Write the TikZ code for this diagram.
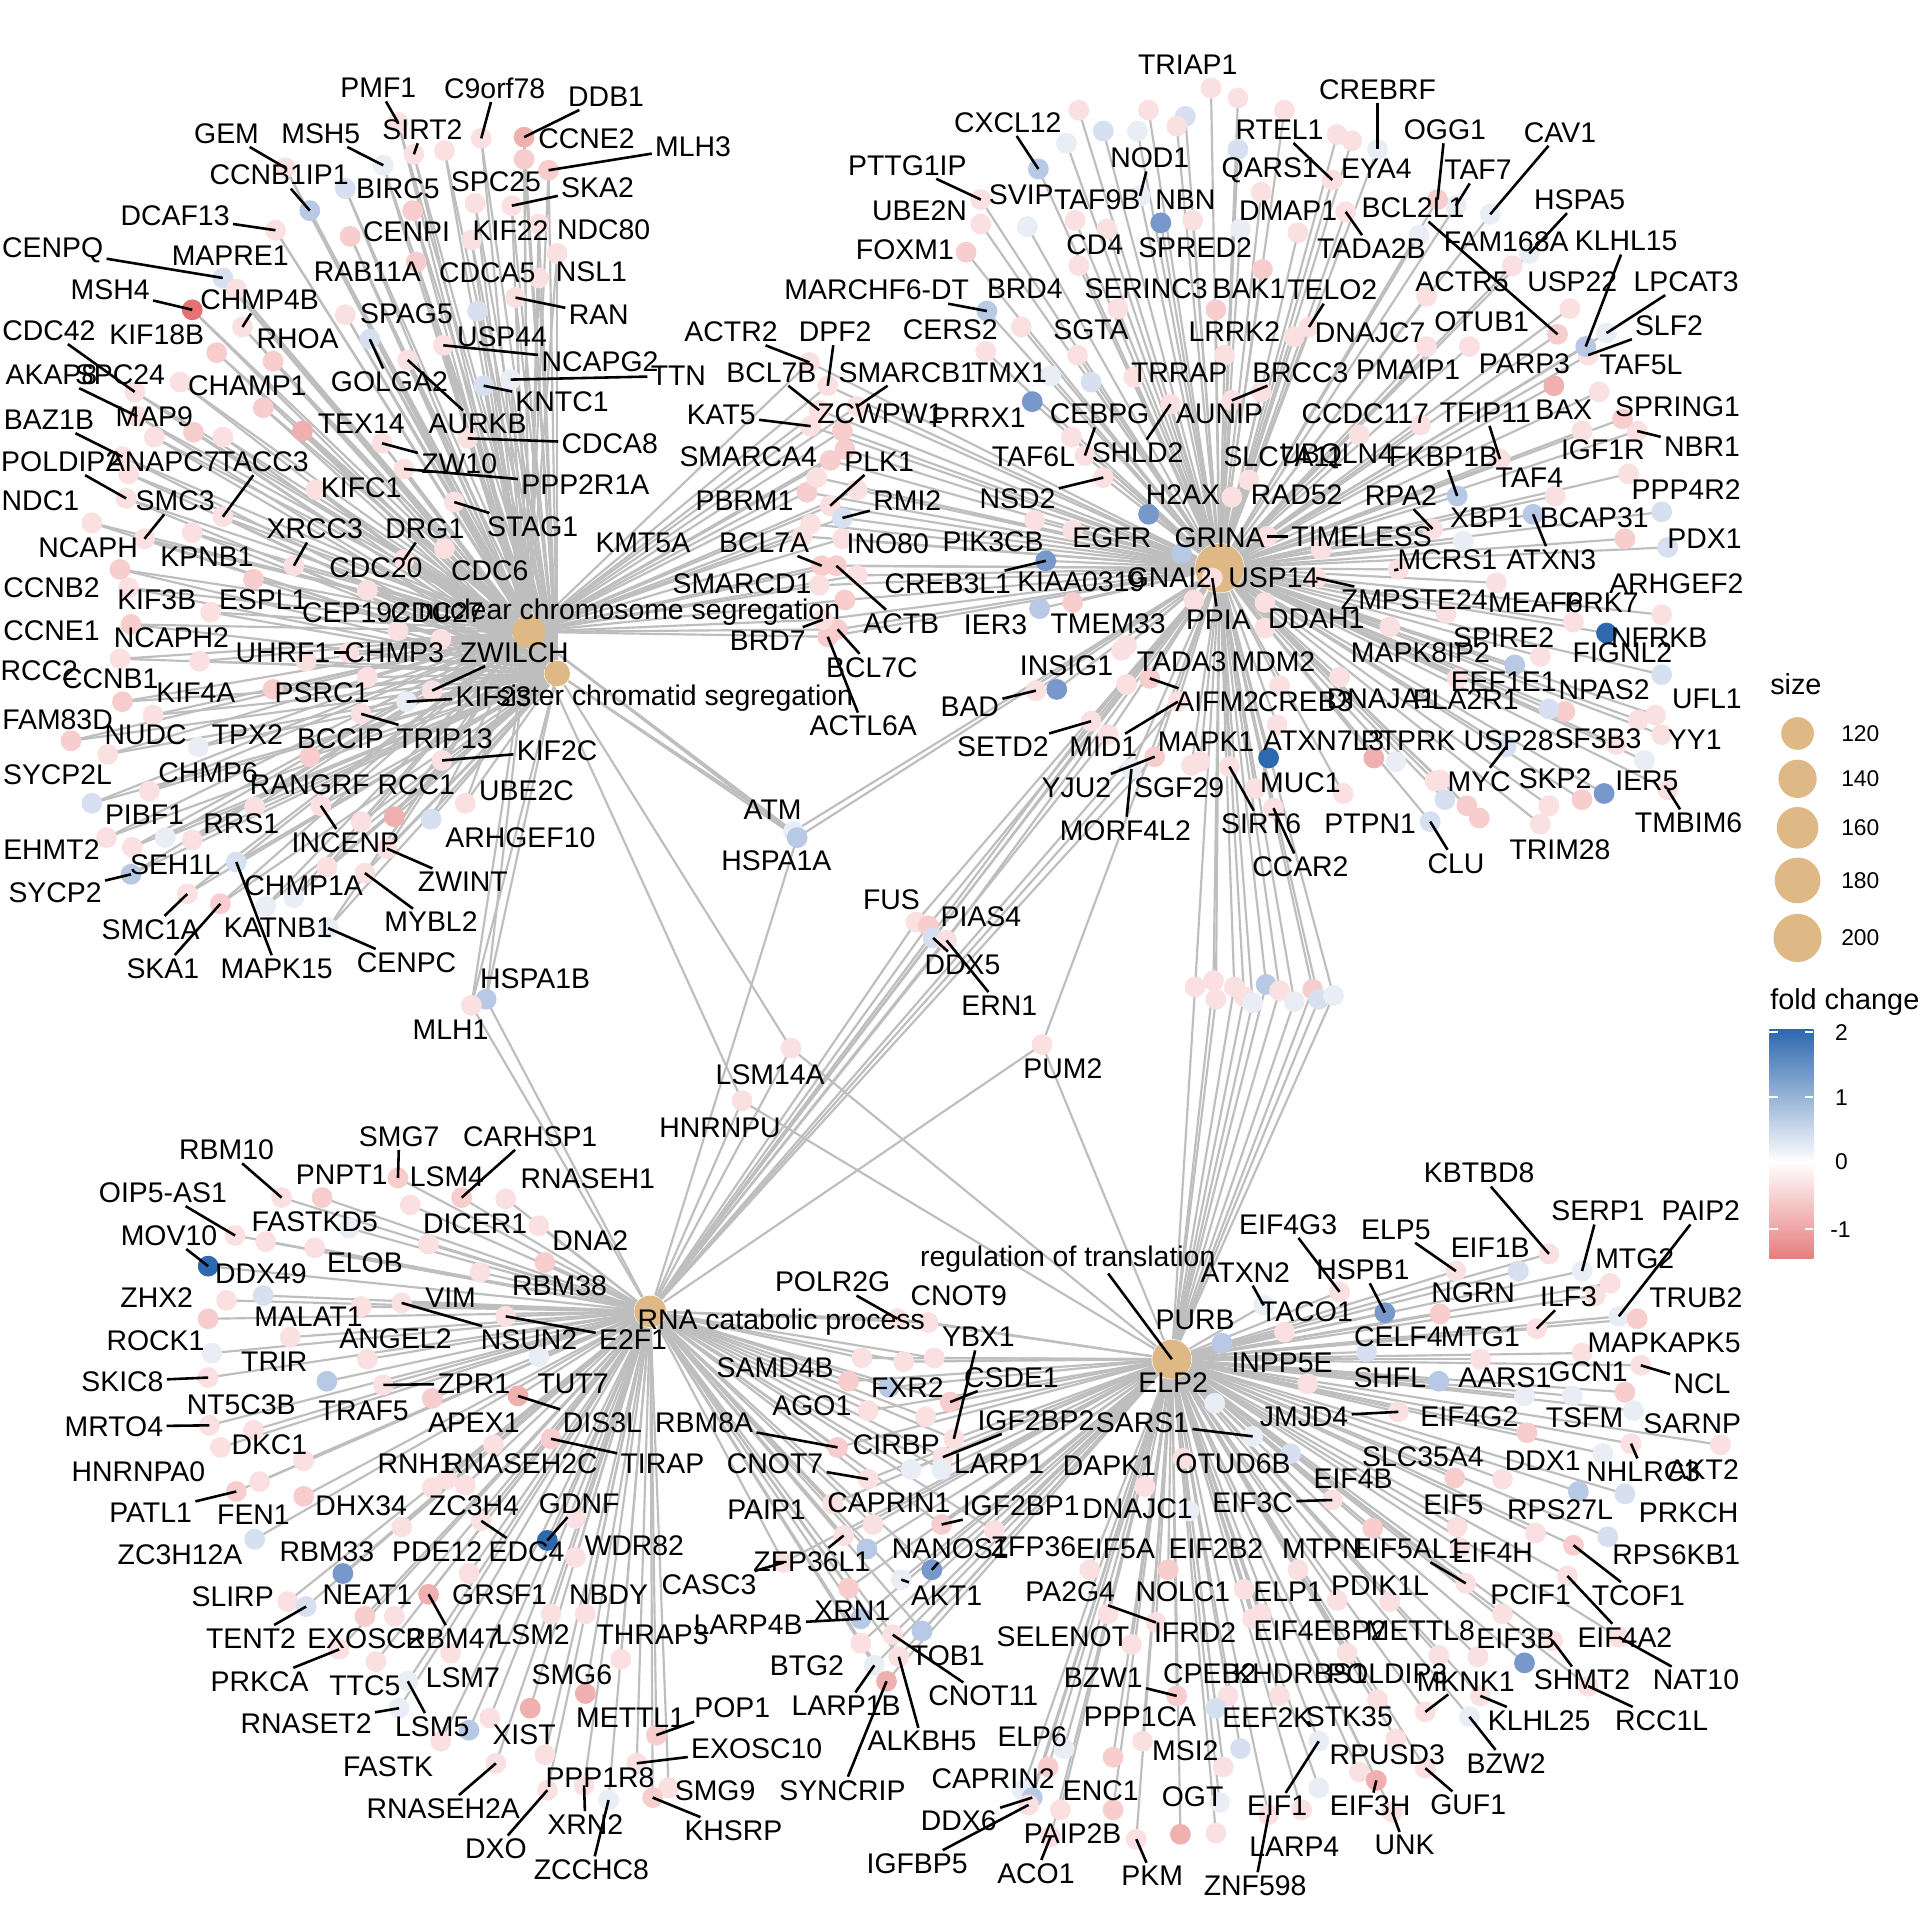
\documentclass[tikz,border=0pt]{standalone}
\usepackage{fontspec}
\setmainfont{Liberation Sans}
\pgfdeclarelayer{bgl}
\pgfdeclarelayer{edgel}
\pgfdeclarelayer{dotl}
\pgfdeclarelayer{leadl}
\pgfsetlayers{bgl,edgel,dotl,leadl,main}
\definecolor{cr1}{RGB}{250,224,224}
\definecolor{cr2}{RGB}{247,205,205}
\definecolor{cr3}{RGB}{241,176,176}
\definecolor{cr4}{RGB}{228,114,114}
\definecolor{cw}{RGB}{233,237,245}
\definecolor{cb1}{RGB}{214,224,240}
\definecolor{cb2}{RGB}{184,201,230}
\definecolor{cb3}{RGB}{120,152,204}
\definecolor{cb4}{RGB}{46,104,175}
\definecolor{hubc}{RGB}{222,185,133}
\definecolor{edgec}{RGB}{190,190,190}
\definecolor{barlow}{RGB}{230,125,125}
\tikzset{
  lnk/.style={draw=edgec,line width=0.5pt},
  ldr/.style={draw=black,line width=0.6pt},
  gdot/.style={circle,inner sep=0pt,minimum size=1.7mm,draw=none},
  hubn/.style={circle,inner sep=0pt,fill=hubc,draw=none},
  glab/.style={font=\fontsize{6.6}{7}\selectfont,inner sep=0.6pt,text=black},
  lgt/.style={font=\fontsize{6.7}{7}\selectfont,inner sep=0pt,anchor=west},
  lgn/.style={font=\fontsize{5.3}{6}\selectfont,inner sep=0pt,anchor=west}
}
\newcounter{gn}
\def\gmode{0}
\newcommand\gene[8]{\stepcounter{gn}\edef\gid{\arabic{gn}}%
  \ifcase\gmode\relax
    \node[gdot,fill=#7] (p\gid) at (#5,#6) {};%
  \or
    \foreach \h in {#1}{\draw[lnk] (\h) -- (p\gid.center);}%
  \or
    \if\relax\detokenize{#2}\relax\else\node[glab] (l\gid) at (#3,#4) {#2};\fi
  \or
    \ifnum#8=1\relax\draw[ldr] (l\gid) -- (p\gid.center);\fi
  \fi}
\newcommand\G[7]{\gene{#1}{#2}{#3}{#4}{#5}{#6}{#7}{0}}
\newcommand\GL[7]{\gene{#1}{#2}{#3}{#4}{#5}{#6}{#7}{1}}
\newcommand\GD[4]{\gene{#1}{}{0}{0}{#2}{#3}{#4}{0}}
\newcommand\genedata{%
% ---------- top-left cluster
\GL{CS,SC}{PMF1}{309}{72}{325}{100}{cr1}
\GL{CS,SC}{SIRT2}{345}{106}{338}{126}{cr1}
\GL{CS,SC}{C9orf78}{404}{72}{393}{113}{cr1}
\GL{CS,SC}{DDB1}{495}{79}{428}{112}{cr3}
\G{CS,SC}{CCNE2}{479}{113}{428}{130}{cr2}
\GL{CS,SC}{MLH3}{566}{120}{448}{139}{cr2}
\GL{CS,SC}{GEM}{185}{109}{233}{137}{cr1}
\GL{CS,SC}{MSH5}{262}{109}{313}{135}{cw}
\GL{CS,SC}{CCNB1IP1}{228}{143}{253}{172}{cb2}
\G{CS,SC}{BIRC5}{325}{154}{282}{154}{cb1}
\G{CS,SC}{SPC25}{405}{148}{388}{166}{cr1}
\GL{CS,SC}{SKA2}{488}{153}{418}{168}{cr1}
\GL{CS,SC}{DCAF13}{143}{176}{225}{188}{cr1}
\G{CS,SC}{CENPI}{332}{189}{286}{193}{cr2}
\G{CS,SC}{KIF22}{417}{188}{385}{196}{cr1}
\G{CS,SC}{NDC80}{493}{188}{440}{183}{cr1}
\GL{CS,SC}{CENPQ}{43}{204}{182}{227}{cb1}
\G{CS,SC}{MAPRE1}{188}{209}{193}{236}{cr1}
\GL{CS,SC}{CHMP4B}{212}{245}{198}{267}{cr1}
\G{CS,SC}{RAB11A}{300}{222}{340}{214}{cr2}
\G{CS,SC}{CDCA5}{398}{223}{440}{227}{cr1}
\G{CS,SC}{NSL1}{483}{222}{455}{207}{cr1}
\GL{CS,SC}{RAN}{489}{257}{421}{243}{cr1}
\GL{CS,SC}{MSH4}{90}{237}{157}{253}{cr4}
\G{CS,SC}{RHOA}{243}{277}{223}{295}{cr2}
\G{CS,SC}{SPAG5}{332}{256}{282}{257}{cr1}
\G{CS,SC}{USP44}{410}{275}{390}{254}{cb1}
\GL{CS,SC}{NCAPG2}{490}{295}{362}{282}{cr1}
\GL{CS,SC}{TTN}{554}{307}{417}{310}{cw}
\GL{CS,SC}{KNTC1}{459}{328}{395}{315}{cb1}
\GL{CS,SC}{GOLGA2}{318}{312}{302}{277}{cb1}
\GL{CS,SC}{AURKB}{390}{346}{333}{294}{cr1}
\GL{CS,SC}{CDC42}{40}{270}{110}{320}{cr1}
\G{CS,SC}{KIF18B}{128}{273}{177}{288}{cr2}
\GL{CS,SC}{AKAP8}{42}{306}{112}{340}{cr1}
\G{CS,SC}{SPC24}{98}{306}{147}{312}{cr1}
\G{CS,SC}{CHAMP1}{202}{315}{215}{333}{cr2}
\GL{CS,SC}{BAZ1B}{40}{343}{100}{373}{cr1}
\G{CS,SC}{MAP9}{126}{340}{126}{357}{cr1}
\G{CS,SC}{TEX14}{295}{346}{247}{352}{cr3}
\GL{CS,SC}{CDCA8}{498}{362}{382}{358}{cr1}
\GL{CS,SC}{POLDIP2}{50}{377}{103}{407}{cr1}
\G{CS,SC}{ANAPC7}{133}{377}{158}{353}{cr2}
\GL{CS,SC}{TACC3}{215}{377}{182}{422}{cr1}
\GL{CS,SC}{ZW10}{375}{379}{312}{362}{cr1}
\GL{CS,SC}{PPP2R1A}{478}{396}{330}{383}{cr1}
\G{CS,SC}{KIFC1}{295}{398}{258}{400}{cr1}
\G{CS,SC}{NDC1}{33}{409}{75}{427}{cr1}
\GL{CS,SC}{SMC3}{143}{409}{118}{440}{cr1}
\GL{CS,SC}{STAG1}{435}{430}{371}{410}{cr1}
\GL{CS,SC}{XRCC3}{257}{432}{240}{462}{cr1}
\GL{CS,SC}{DRG1}{347}{432}{330}{457}{cr1}
\G{CS,SC}{NCAPH}{72}{447}{98}{465}{cr2}
\G{CS,SC}{KPNB1}{169}{455}{157}{435}{cr1}
\G{CS,SC}{CDC20}{307}{464}{300}{482}{cr1}
\G{CS,SC}{CDC6}{400}{466}{363}{448}{cr1}
\G{CS,SC}{CCNB2}{42}{480}{105}{480}{cr1}
\G{CS,SC}{KIF3B}{128}{490}{172}{500}{cr1}
\G{CS,SC}{ESPL1}{215}{490}{207}{473}{cr2}
\G{CS,SC}{CEP192}{290}{500}{325}{515}{cr1}
\G{CS,SC}{CDC27}{357}{500}{360}{522}{cr1}
\G{CS,SC}{CCNE1}{42}{515}{107}{510}{cr2}
\G{CS,SC}{NCAPH2}{140}{521}{163}{540}{cr1}
\GL{CS,SC}{UHRF1}{231}{533}{285}{533}{cr1}
\G{CS,SC}{CHMP3}{322}{533}{300}{553}{cr1}
\GL{CS,SC}{ZWILCH}{420}{533}{353}{564}{cr1}
\G{CS,SC}{RCC2}{32}{548}{98}{538}{cr1}
\G{CS,SC}{CCNB1}{90}{554}{100}{573}{cr2}
\G{CS,SC}{KIF4A}{160}{566}{125}{584}{cr1}
\G{CS,SC}{PSRC1}{263}{566}{223}{563}{cr2}
\GL{CS,SC}{KIF23}{403}{569}{332}{573}{cw}
\G{CS,SC}{FAM83D}{47}{588}{58}{605}{cr2}
\G{CS,SC}{NUDC}{119}{600}{88}{616}{cr1}
\G{CS,SC}{TPX2}{202}{600}{162}{610}{cw}
\G{CS,SC}{BCCIP}{278}{603}{253}{618}{cr2}
\GL{CS,SC}{TRIP13}{363}{603}{295}{583}{cr1}
\GL{CS,SC}{KIF2C}{455}{613}{361}{621}{cr1}
\G{CS,SC}{SYCP2L}{47}{633}{75}{656}{cb1}
\G{CS,SC}{CHMP6}{170}{631}{122}{646}{cr1}
\G{CS,SC}{RANGRF}{253}{641}{208}{659}{cr1}
\G{CS,SC}{RCC1}{340}{641}{322}{667}{cr3}
\G{CS,SC}{UBE2C}{430}{646}{380}{656}{cr1}
\G{CS,SC}{PIBF1}{118}{665}{135}{684}{cw}
\G{CS,SC}{RRS1}{197}{673}{157}{686}{cr1}
\G{CS,SC}{ARHGEF10}{425}{684}{352}{669}{cb1}
\G{CS,SC}{EHMT2}{42}{694}{87}{684}{cr1}
\GL{CS,SC}{INCENP}{282}{688}{262}{658}{cr1}
\G{CS,SC}{SEH1L}{143}{706}{108}{692}{cr1}
\GL{CS,SC}{SYCP2}{45}{729}{107}{714}{cb2}
\GL{CS,SC}{ZWINT}{378}{720}{316}{693}{cr1}
\G{CS,SC}{CHMP1A}{248}{723}{217}{740}{cw}
\GL{CS,SC}{MYBL2}{352}{753}{298}{713}{cr1}
\GL{CS,SC}{SMC1A}{123}{759}{153}{730}{cr1}
\G{CS,SC}{KATNB1}{227}{758}{240}{733}{cw}
\GL{CS,SC}{SKA1}{133}{791}{180}{738}{cr2}
\GL{CS,SC}{MAPK15}{226}{791}{193}{704}{cb1}
\GL{CS,SC}{CENPC}{332}{786}{268}{758}{cw}
\G{CS,SC,RC}{HSPA1B}{437}{799}{397}{816}{cb2}
\G{CS,SC,RC}{MLH1}{368}{841}{385}{821}{cr1}
\GD{CS,SC}{363}{123}{cr1}
\GD{CS,SC}{337}{172}{cr2}
\GD{CS,SC}{105}{387}{cr1}
\GD{CS,SC}{182}{357}{cr1}
\GD{CS,SC}{250}{540}{cr1}
\GD{CS,SC}{267}{708}{cr1}
\GD{CS,SC}{295}{671}{cr1}
% ---------- SWI/SNF column
\GL{CS,DR}{ACTR2}{597}{271}{661}{296}{cr1}
\GL{CS,DR}{DPF2}{682}{271}{676}{315}{cr1}
\GL{CS,DR}{BCL7B}{630}{304}{669}{335}{cr1}
\GL{CS,DR}{SMARCB1}{741}{304}{700}{332}{cr1}
\G{CS,DR}{ZCWPW1}{719}{338}{688}{352}{cr2}
\GL{CS,DR}{KAT5}{589}{339}{662}{348}{cr1}
\G{CS,DR}{SMARCA4}{611}{373}{678}{376}{cr2}
\GL{CS,DR}{PLK1}{718}{377}{678}{413}{cr1}
\G{CS,DR}{PBRM1}{608}{409}{659}{402}{cr2}
\GL{CS,DR}{RMI2}{741}{409}{688}{423}{cb1}
\G{CS,DR}{INO80}{725}{444}{688}{440}{cr1}
\G{CS,DR}{KMT5A}{525}{443}{655}{438}{cr1}
\GL{CS,DR}{BCL7A}{624}{443}{671}{462}{cr2}
\G{CS,DR}{SMARCD1}{606}{477}{669}{478}{cr1}
\GL{CS,DR}{ACTB}{736}{509}{683}{462}{cr2}
\GL{CS,DR}{BCL7C}{712}{545}{684}{514}{cr2}
\GL{CS,DR}{ACTL6A}{705}{593}{676}{520}{cr2}
\GL{CS,DR}{BRD7}{627}{523}{672}{506}{cr1}
\GD{CS,DR}{690}{367}{cr2}
\GD{CS,DR}{667}{390}{cr1}
\GD{CS,DR}{700}{400}{cr1}
\GD{CS,DR}{662}{428}{cr1}
\GD{CS,DR}{700}{470}{cr1}
\GD{CS,DR}{690}{490}{cr2}
% ---------- middle connectors
\G{CS,SC,DR}{ATM}{631}{661}{648}{679}{cw}
\G{CS,SC,DR,RC}{HSPA1A}{634}{703}{651}{684}{cb2}
\G{DR,RC}{FUS}{728}{735}{748}{753}{cr1}
\G{DR,RC}{PIAS4}{801}{749}{758}{756}{cr2}
\GL{DR,RC}{DDX5}{786}{788}{762}{766}{cb1}
\GL{DR,RC}{ERN1}{816}{821}{773}{768}{cr1}
\G{DR,RC,RT}{PUM2}{868}{873}{851}{853}{cr1}
\G{SC,RC,RT}{LSM14A}{629}{878}{646}{856}{cr1}
\G{CS,RC,RT}{HNRNPU}{588}{921}{606}{899}{cr1}
% ---------- DR cluster
\G{DR}{TRIAP1}{970}{53}{989}{72}{cr1}
\GL{DR}{CXCL12}{823}{100}{848}{138}{cb2}
\GL{DR}{NOD1}{939}{129}{931}{160}{cw}
\GL{DR}{PTTG1IP}{741}{135}{801}{163}{cr1}
\G{DR}{SVIP}{834}{159}{839}{185}{cw}
\G{DR}{TAF9B}{896}{163}{878}{180}{cr1}
\G{DR}{NBN}{968}{163}{948}{182}{cb3}
\G{DR}{UBE2N}{751}{172}{801}{183}{cr1}
\G{DR}{FOXM1}{739}{204}{789}{206}{cr2}
\G{DR}{CD4}{894}{200}{881}{217}{cr1}
\G{DR}{SPRED2}{976}{202}{974}{180}{cr1}
\GL{DR}{MARCHF6-DT}{716}{237}{806}{254}{cb2}
\G{DR}{BRD4}{837}{236}{834}{267}{cr1}
\G{DR}{SERINC3}{936}{236}{913}{252}{cr1}
\G{DR}{BAK1}{1020}{236}{993}{253}{cr2}
\G{DR}{CERS2}{776}{269}{805}{287}{cr1}
\G{DR}{SGTA}{891}{269}{880}{290}{cr1}
\G{DR}{LRRK2}{1008}{271}{1000}{290}{cr1}
\G{DR}{TMX1}{824}{304}{858}{307}{cw}
\G{DR}{TRRAP}{963}{304}{926}{308}{cr1}
\GL{DR}{BRCC3}{1062}{304}{1006}{327}{cr1}
\G{DR}{PRRX1}{799}{341}{843}{328}{cb3}
\GL{DR}{CEBPG}{898}{338}{886}{372}{cr1}
\G{DR}{AUNIP}{996}{338}{1030}{320}{cr1}
\G{DR}{TAF6L}{844}{373}{875}{357}{cr1}
\GL{DR}{SHLD2}{929}{370}{956}{330}{cr1}
\G{DR}{SLC7A11}{1048}{373}{1020}{392}{cr1}
\G{DR}{H2AX}{966}{404}{938}{420}{cb3}
\GL{DR}{NSD2}{831}{407}{901}{390}{cr1}
\G{DR}{RAD52}{1059}{404}{1006}{406}{cr1}
\G{DR}{PIK3CB}{811}{442}{845}{425}{cr1}
\G{DR}{EGFR}{908}{439}{876}{433}{cr1}
\G{DR}{GRINA}{996}{439}{965}{452}{cb2}
\GL{DR}{TIMELESS}{1112}{438}{1035}{438}{cr1}
\GL{DR}{CREB3L1}{774}{477}{854}{458}{cb3}
\G{DR}{KIAA0319}{883}{475}{876}{492}{cr2}
\G{DR}{GNAI2}{955}{472}{975}{490}{cr1}
\GL{DR}{PPIA}{995}{506}{990}{472}{cr1}
\G{DR}{USP14}{1040}{472}{1033}{492}{cr1}
\GL{DR}{ZMPSTE24}{1155}{490}{1075}{472}{cr1}
\G{DR}{IER3}{813}{510}{849}{497}{cb2}
\G{DR}{TMEM33}{905}{509}{920}{527}{cr1}
\G{DR}{DDAH1}{1075}{505}{1033}{513}{cr1}
\G{DR}{MAPK8IP2}{1160}{533}{1135}{512}{cr1}
\G{DR}{INSIG1}{871}{544}{863}{563}{cb3}
\GL{DR}{BAD}{792}{577}{846}{564}{cr1}
\G{DR,RC}{TADA3}{965}{540}{920}{559}{cr1}
\G{DR}{MDM2}{1040}{540}{1045}{560}{cr1}
\GL{DR}{AIFM2}{994}{573}{939}{554}{cr2}
\G{DR}{CREB3}{1066}{573}{1043}{592}{cr1}
\G{DR}{DNAJA1}{1128}{571}{1094}{553}{cr1}
\G{DR}{PLA2R1}{1197}{571}{1190}{554}{cr1}
\G{DR}{EEF1E1}{1228}{557}{1258}{536}{cr1}
\G{DR}{NPAS2}{1310}{563}{1338}{588}{cr1}
\G{DR}{UFL1}{1394}{571}{1352}{584}{cr1}
\G{DR}{SPIRE2}{1228}{521}{1237}{543}{cb2}
\G{DR}{NFRKB}{1355}{521}{1312}{517}{cb4}
\G{DR}{FIGNL2}{1325}{533}{1357}{551}{cb1}
\G{DR}{ARHGEF2}{1369}{477}{1357}{502}{cr1}
\G{DR}{MEAF6}{1254}{492}{1222}{476}{cr1}
\G{DR}{PRK7}{1308}{492}{1285}{508}{cr1}
\GL{DR}{MCRS1}{1182}{457}{1142}{465}{cr1}
\GL{DR}{ATXN3}{1267}{457}{1252}{420}{cb2}
\G{DR}{XBP1}{1214}{423}{1195}{442}{cw}
\G{DR}{BCAP31}{1302}{423}{1327}{440}{cr2}
\G{DR}{PPP4R2}{1377}{400}{1357}{418}{cb1}
\G{DR}{PDX1}{1392}{440}{1362}{447}{cb1}
\GL{DR}{FKBP1B}{1179}{373}{1190}{405}{cb2}
\G{DR}{UBQLN4}{1092}{373}{1110}{355}{cr1}
\GL{DR}{RPA2}{1144}{405}{1170}{432}{cr1}
\G{DR}{IGF1R}{1309}{367}{1330}{387}{cr1}
\GL{DR}{NBR1}{1390}{365}{1337}{352}{cr1}
\G{DR}{SPRING1}{1370}{332}{1325}{342}{cr2}
\G{DR}{BAX}{1277}{335}{1292}{352}{cr1}
\GL{DR}{TFIP11}{1213}{337}{1225}{375}{cr1}
\G{DR}{TAF4}{1249}{390}{1270}{405}{cr1}
\G{DR}{CCDC117}{1115}{338}{1160}{347}{cr1}
\G{DR}{PMAIP1}{1150}{302}{1165}{283}{cr1}
\G{DR}{PARP3}{1245}{297}{1269}{315}{cr3}
\G{DR}{TAF5L}{1340}{298}{1306}{320}{cr1}
\GL{DR}{SLF2}{1363}{266}{1297}{290}{cr1}
\GL{DR}{LPCAT3}{1377}{230}{1312}{272}{cw}
\GL{DR}{KLHL15}{1328}{197}{1295}{283}{cb2}
\G{DR}{USP22}{1284}{230}{1282}{252}{cr1}
\G{DR}{OTUB1}{1210}{263}{1200}{283}{cr1}
\G{DR}{DNAJC7}{1119}{272}{1057}{275}{cr1}
\GL{DR}{TELO2}{1088}{237}{1069}{267}{cr1}
\G{DR}{ACTR5}{1194}{230}{1165}{242}{cr1}
\GL{DR}{BCL2L1}{1154}{170}{1272}{273}{cr2}
\G{DR}{FAM168A}{1230}{197}{1235}{217}{cr1}
\GL{DR}{HSPA5}{1290}{163}{1249}{207}{cw}
\GL{DR}{TAF7}{1207}{139}{1189}{168}{cw}
\GL{DR}{CAV1}{1274}{108}{1217}{175}{cw}
\GL{DR}{OGG1}{1180}{106}{1174}{163}{cr2}
\GL{DR}{TADA2B}{1120}{203}{1099}{173}{cr1}
\G{DR}{DMAP1}{1052}{172}{1060}{190}{cr1}
\G{DR}{EYA4}{1124}{138}{1104}{115}{cr1}
\GL{DR}{CREBRF}{1125}{73}{1125}{122}{cw}
\GL{DR}{RTEL1}{1045}{106}{1088}{147}{cr1}
\G{DR}{QARS1}{1037}{139}{1030}{157}{cr1}
\G{DR}{ATXN7L3}{1081}{605}{1122}{619}{cr3}
\G{DR}{PTPRK}{1150}{605}{1140}{622}{cw}
\G{DR}{USP28}{1232}{605}{1172}{638}{cr1}
\GL{DR}{MYC}{1208}{638}{1230}{610}{cb1}
\G{DR}{SF3B3}{1305}{603}{1343}{621}{cw}
\G{DR}{YY1}{1384}{604}{1357}{600}{cr1}
\G{DR}{SKP2}{1270}{636}{1265}{658}{cr1}
\G{DR}{IER5}{1345}{638}{1310}{648}{cb3}
\GL{DR}{TMBIM6}{1379}{672}{1362}{645}{cr1}
\G{DR}{PTPN1}{1119}{673}{1097}{648}{cr1}
\GL{DR}{CLU}{1189}{705}{1168}{671}{cb1}
\G{DR}{TRIM28}{1274}{694}{1258}{673}{cr1}
\GL{DR}{SIRT6}{1030}{673}{1004}{626}{cr1}
\GL{DR}{CCAR2}{1062}{708}{1040}{660}{cr1}
\G{DR}{MUC1}{1062}{639}{1036}{619}{cb4}
\G{DR}{MAPK1}{985}{606}{973}{625}{cr1}
\GL{DR,RC}{MID1}{901}{610}{962}{573}{cr1}
\GL{DR,RC}{SETD2}{819}{610}{891}{589}{cr1}
\GL{DR,RC}{YJU2}{879}{643}{943}{618}{cr2}
\G{DR}{SGF29}{963}{643}{980}{622}{cr1}
\GL{DR,RC}{MORF4L2}{919}{678}{924}{628}{cw}
\GD{DR}{881}{90}{cr1}
\GD{DR}{901}{107}{cb1}
\GD{DR}{938}{90}{cr1}
\GD{DR}{968}{95}{cb1}
\GD{DR}{1011}{80}{cr1}
\GD{DR}{1011}{122}{cb1}
\GD{DR}{961}{103}{cr1}
\GD{DR}{929}{107}{cw}
\GD{DR}{871}{117}{cw}
\GD{DR}{904}{187}{cr1}
\GD{DR}{1013}{187}{cw}
\GD{DR}{1031}{220}{cr2}
\GD{DR}{1049}{90}{cr1}
\GD{DR}{1092}{110}{cr1}
\GD{DR}{1159}{192}{cw}
\GD{DR}{891}{312}{cb1}
\GD{DR}{1292}{653}{cr2}
\GD{DR}{1198}{658}{cr2}
\GD{DR}{1208}{668}{cr2}
\GD{DR}{1278}{581}{cr2}
\GD{DR}{1265}{579}{cb1}
\GD{DR}{1320}{608}{cr1}
\GD{DR}{1079}{449}{cr1}
\GD{DR}{1181}{501}{cr1}
\GD{DR}{1176}{637}{cr1}
\GD{DR}{1180}{653}{cb1}
\GD{DR}{1025}{644}{cr1}
\GD{DR}{916}{531}{cr1}
\GD{DR,RC}{905}{600}{cr1}
% DR - RT bridge
\GD{DR,RT}{976}{806}{cr1}
\GD{DR,RT}{991}{801}{cr1}
\GD{DR,RT}{993}{816}{cr1}
\GD{DR,RT}{1008}{806}{cr1}
\GD{DR,RT}{1016}{814}{cr1}
\GD{DR,RT}{1023}{819}{cw}
\GD{DR,RT}{1034}{804}{cb2}
\GD{DR,RT}{1045}{809}{cr1}
\GD{DR,RT}{1057}{818}{cw}
\GD{DR,RT}{1072}{808}{cr2}
\GD{DR,RT}{1077}{816}{cb1}
\GD{DR,RT}{1089}{813}{cw}
% ---------- RC / RT mesh
\GL{RC,RT}{POLR2G}{680}{1047}{733}{1077}{cr1}
\G{RC,RT}{CNOT9}{783}{1058}{758}{1080}{cr1}
\GL{RC,RT}{YBX1}{799}{1092}{779}{1175}{cr1}
\G{RC,RT}{SAMD4B}{633}{1117}{693}{1128}{cr2}
\G{RC,RT}{FXR2}{741}{1133}{726}{1133}{cb2}
\GL{RC,RT}{CSDE1}{826}{1125}{776}{1145}{cr2}
\G{RC,RT}{AGO1}{663}{1148}{709}{1152}{cr1}
\GL{RC,RT}{RBM8A}{575}{1162}{684}{1182}{cr2}
\G{RC,RT}{CIRBP}{732}{1180}{756}{1157}{cr1}
\GL{RC,RT}{IGF2BP2}{846}{1160}{770}{1190}{cr1}
\G{RC,RT}{LARP1}{816}{1195}{769}{1200}{cw}
\GL{RC,RT}{CNOT7}{633}{1195}{709}{1208}{cr1}
\G{RC,RT}{PAIP1}{626}{1233}{680}{1228}{cr1}
\G{RC,RT}{CAPRIN1}{726}{1227}{744}{1200}{cw}
\GL{RC,RT}{IGF2BP1}{834}{1230}{769}{1245}{cr2}
\GL{RC,RT}{ZFP36L1}{663}{1275}{689}{1254}{cr1}
\GL{RC,RT}{CASC3}{579}{1294}{640}{1276}{cr1}
\GL{RC,RT}{NANOS1}{776}{1265}{761}{1282}{cb3}
\G{RC,RT}{ZFP36}{844}{1263}{812}{1250}{cr1}
\GL{RC,RT}{AKT1}{773}{1303}{736}{1290}{cw}
\G{RC,RT}{XRN1}{696}{1315}{693}{1297}{cr2}
\GL{RC,RT}{LARP4B}{611}{1327}{703}{1322}{cb2}
\G{RC,RT}{BTG2}{659}{1360}{703}{1342}{cr1}
\G{RC,RT}{TOB1}{774}{1352}{753}{1332}{cb2}
\GL{RC,RT}{CNOT11}{803}{1385}{729}{1335}{cr1}
\GL{RC,RT}{LARP1B}{691}{1393}{714}{1360}{cw}
\GL{RC,RT}{ALKBH5}{753}{1422}{734}{1353}{cr1}
\GL{RC,RT}{SYNCRIP}{688}{1462}{724}{1373}{cr3}
\GD{RC,RT}{704}{1109}{cr1}
\GD{RC,RT}{738}{1112}{cr1}
\GD{RC,RT}{763}{1109}{cr1}
\GD{RC,RT}{713}{1245}{cr1}
\GD{RC,RT}{708}{1265}{cb2}
% ---------- RC cluster
\GL{RC}{SMG7}{326}{928}{325}{962}{cr2}
\GL{RC}{CARHSP1}{433}{928}{377}{978}{cr2}
\GL{RC}{RBM10}{185}{939}{230}{978}{cr1}
\G{RC}{PNPT1}{279}{959}{263}{978}{cr2}
\G{RC}{LSM4}{365}{961}{335}{984}{cr1}
\G{RC}{RNASEH1}{480}{963}{413}{979}{cr1}
\GL{RC}{OIP5-AS1}{133}{974}{192}{1009}{cr1}
\G{RC}{FASTKD5}{257}{998}{217}{1014}{cr1}
\G{RC}{DICER1}{388}{999}{350}{1016}{cr1}
\GL{RC}{MOV10}{138}{1009}{170}{1034}{cb4}
\G{RC}{DNA2}{482}{1013}{440}{1001}{cr1}
\G{RC}{DDX49}{213}{1040}{215}{1058}{cb1}
\G{RC}{ELOB}{298}{1031}{257}{1019}{cr1}
\G{RC}{RBM38}{457}{1050}{392}{1039}{cr1}
\G{RC}{ZHX2}{128}{1060}{170}{1077}{cr2}
\G{RC}{MALAT1}{252}{1075}{237}{1092}{cr1}
\G{RC}{VIM}{368}{1060}{295}{1067}{cr1}
\GL{RC}{NSUN2}{432}{1094}{328}{1064}{cr1}
\GL{RC}{E2F1}{517}{1094}{413}{1075}{cr1}
\G{RC}{ANGEL2}{323}{1093}{300}{1110}{cr1}
\G{RC}{ROCK1}{127}{1095}{173}{1105}{cw}
\G{RC}{TRIR}{224}{1112}{267}{1128}{cb2}
\GL{RC}{SKIC8}{100}{1128}{170}{1125}{cr1}
\GL{RC}{ZPR1}{387}{1130}{313}{1131}{cr1}
\G{RC}{TUT7}{468}{1130}{440}{1108}{cw}
\G{RC}{NT5C3B}{197}{1147}{207}{1168}{cr1}
\G{RC}{TRAF5}{297}{1152}{353}{1142}{cr2}
\GL{RC}{MRTO4}{93}{1165}{171}{1164}{cr1}
\G{RC}{APEX1}{387}{1162}{403}{1180}{cr1}
\GL{RC}{DIS3L}{492}{1162}{423}{1140}{cr3}
\G{RC}{DKC1}{220}{1180}{248}{1193}{cr1}
\G{RC}{HNRNPA0}{113}{1202}{180}{1182}{cr1}
\G{RC}{RNH1}{340}{1195}{353}{1215}{cr1}
\G{RC}{RNASEH2C}{425}{1195}{380}{1213}{cr1}
\GL{RC}{TIRAP}{541}{1195}{450}{1175}{cr2}
\GL{RC}{PATL1}{123}{1235}{193}{1218}{cr2}
\G{RC}{FEN1}{207}{1237}{212}{1210}{cr1}
\G{RC}{DHX34}{295}{1230}{248}{1222}{cr2}
\G{RC}{ZC3H4}{387}{1230}{365}{1208}{cr1}
\GL{RC}{GDNF}{473}{1228}{447}{1258}{cb4}
\G{RC}{ZC3H12A}{147}{1270}{208}{1257}{cb1}
\G{RC}{RBM33}{267}{1267}{280}{1285}{cb3}
\G{RC}{PDE12}{357}{1267}{328}{1247}{cr1}
\GL{RC}{EDC4}{430}{1267}{393}{1242}{cr1}
\G{RC}{WDR82}{518}{1262}{470}{1272}{cr1}
\G{RC}{SLIRP}{190}{1304}{235}{1308}{cr1}
\G{RC}{NEAT1}{300}{1302}{298}{1320}{cr2}
\G{RC}{GRSF1}{408}{1302}{383}{1285}{cr1}
\G{RC}{NBDY}{497}{1302}{478}{1318}{cr1}
\GL{RC}{TENT2}{205}{1338}{250}{1312}{cb1}
\G{RC}{EXOSC2}{298}{1338}{322}{1320}{cr1}
\GL{RC}{RBM47}{370}{1338}{350}{1302}{cr3}
\G{RC}{LSM2}{435}{1335}{450}{1318}{cr1}
\G{RC}{THRAP3}{533}{1335}{507}{1355}{cr1}
\GL{RC}{PRKCA}{212}{1373}{277}{1347}{cr1}
\G{RC}{TTC5}{298}{1377}{307}{1357}{cr1}
\G{RC}{LSM7}{378}{1370}{368}{1350}{cr1}
\G{RC}{SMG6}{467}{1368}{433}{1395}{cr3}
\GL{RC}{RNASET2}{250}{1408}{326}{1395}{cw}
\GL{RC}{LSM5}{353}{1410}{333}{1373}{cw}
\G{RC}{XIST}{428}{1417}{400}{1403}{cr1}
\G{RC}{METTL1}{515}{1403}{478}{1383}{cr3}
\G{RC}{FASTK}{317}{1443}{360}{1422}{cr1}
\GL{RC}{RNASEH2A}{362}{1477}{405}{1440}{cr1}
\G{RC}{PPP1R8}{490}{1452}{445}{1433}{cr1}
\GL{RC}{DXO}{405}{1510}{447}{1462}{cr1}
\GL{RC}{XRN2}{478}{1490}{477}{1458}{cr1}
\GL{RC}{ZCCHC8}{483}{1527}{497}{1470}{cw}
\GL{RC}{POP1}{598}{1395}{536}{1417}{cr2}
\GL{RC}{EXOSC10}{618}{1428}{520}{1440}{cr1}
\G{RC}{SMG9}{584}{1462}{546}{1460}{cr1}
\GL{RC}{KHSRP}{599}{1495}{533}{1468}{cr2}
\GD{RC}{445}{1031}{cr2}
\GD{RC}{383}{1413}{cb2}
\GD{RC}{285}{1003}{cw}
\GD{RC}{470}{1240}{cr1}
\GD{RC}{185}{1062}{cr1}
% ---------- RT cluster
\GL{RT}{KBTBD8}{1208}{958}{1265}{1024}{cr1}
\GL{RT}{SERP1}{1305}{989}{1292}{1038}{cw}
\GL{RT}{PAIP2}{1389}{989}{1322}{1075}{cw}
\GL{RT}{ELP5}{1140}{1004}{1189}{1038}{cr1}
\G{RT}{EIF1B}{1217}{1019}{1240}{1038}{cb1}
\G{RT}{MTG2}{1335}{1028}{1303}{1058}{cr1}
\GL{RT}{EIF4G3}{1052}{1000}{1094}{1055}{cr1}
\GL{RT}{HSPB1}{1113}{1037}{1131}{1072}{cb3}
\GL{RT}{ATXN2}{1017}{1039}{1032}{1066}{cw}
\G{RT}{TACO1}{1067}{1071}{1049}{1088}{cr1}
\G{RT}{PURB}{976}{1078}{998}{1097}{cb2}
\G{RT}{ELP2}{958}{1129}{992}{1146}{cw}
\G{RT}{NGRN}{1203}{1056}{1176}{1073}{cr2}
\GL{RT}{ILF3}{1281}{1059}{1255}{1085}{cr1}
\G{RT}{TRUB2}{1385}{1060}{1337}{1077}{cr2}
\G{RT}{CELF4}{1142}{1092}{1116}{1104}{cb1}
\G{RT}{MTG1}{1209}{1092}{1209}{1110}{cr1}
\G{RT}{MAPKAPK5}{1359}{1097}{1292}{1105}{cr1}
\G{RT}{INPP5E}{1047}{1113}{1068}{1130}{cr1}
\G{RT}{SHFL}{1135}{1125}{1175}{1128}{cb2}
\G{RT}{AARS1}{1229}{1125}{1245}{1140}{cw}
\G{RT}{GCN1}{1297}{1120}{1284}{1140}{cw}
\GL{RT}{NCL}{1390}{1130}{1340}{1115}{cr1}
\GL{RT}{JMJD4}{1065}{1157}{1142}{1153}{cr1}
\G{RT}{EIF4G2}{1200}{1157}{1247}{1170}{cr2}
\G{RT}{TSFM}{1294}{1158}{1327}{1137}{cr2}
\G{RT}{SARNP}{1382}{1163}{1334}{1152}{cw}
\GL{RT}{SARS1}{933}{1162}{1023}{1173}{cw}
\G{RT}{SLC35A4}{1162}{1190}{1188}{1207}{cr2}
\G{RT}{DDX1}{1260}{1193}{1227}{1208}{cr1}
\GL{RT}{NHLRC3}{1342}{1202}{1332}{1179}{cr1}
\G{RT}{AKT2}{1391}{1200}{1405}{1180}{cr1}
\G{RT}{EIF4B}{1105}{1208}{1121}{1248}{cr2}
\GL{RT}{EIF3C}{1023}{1227}{1088}{1225}{cr1}
\G{RT}{OTUD6B}{1007}{1195}{966}{1191}{cr1}
\G{RT}{DAPK1}{906}{1197}{935}{1214}{cr1}
\G{RT}{DNAJC1}{929}{1232}{971}{1234}{cw}
\G{RT}{EIF5}{1187}{1229}{1190}{1247}{cr1}
\G{RT}{RPS27L}{1274}{1233}{1254}{1252}{cr1}
\G{RT}{PRKCH}{1379}{1235}{1327}{1220}{cb1}
\G{RT}{EIF4H}{1219}{1268}{1192}{1264}{cr1}
\G{RT}{RPS6KB1}{1369}{1270}{1313}{1255}{cb1}
\GL{RT}{TCOF1}{1338}{1303}{1285}{1262}{cr2}
\GL{RT}{EIF4A2}{1327}{1337}{1280}{1287}{cr1}
\G{RT}{PCIF1}{1250}{1302}{1227}{1318}{cr1}
\G{RT}{EIF3B}{1238}{1338}{1245}{1358}{cb3}
\GL{RT}{SHMT2}{1292}{1372}{1268}{1340}{cr1}
\GL{RT}{RCC1L}{1357}{1405}{1297}{1377}{cr1}
\GL{RT}{NAT10}{1385}{1372}{1322}{1337}{cr1}
\GL{RT}{EIF5AL1}{1150}{1265}{1197}{1293}{cr1}
\G{RT}{MTPN}{1080}{1265}{1060}{1282}{cr1}
\G{RT}{PDIK1L}{1127}{1295}{1092}{1307}{cr1}
\G{RT}{ELP1}{1052}{1300}{1030}{1318}{cr1}
\G{RT}{EIF4EBP2}{1078}{1332}{1100}{1350}{cr1}
\G{RT}{METTL8}{1160}{1332}{1175}{1352}{cr1}
\G{RT}{KHDRBS1}{1062}{1367}{1045}{1385}{cr1}
\G{RT}{POLDIP3}{1133}{1367}{1125}{1388}{cr1}
\G{RT}{CPEB2}{988}{1367}{1003}{1385}{cr1}
\GL{RT}{MKNK1}{1197}{1373}{1164}{1398}{cr1}
\GL{RT}{KLHL25}{1257}{1405}{1209}{1385}{cr1}
\GL{RT}{BZW2}{1230}{1440}{1200}{1402}{cw}
\G{RT}{STK35}{1102}{1402}{1140}{1420}{cr1}
\G{RT}{EEF2K}{1035}{1403}{993}{1395}{cb1}
\G{RT}{RPUSD3}{1133}{1433}{1110}{1447}{cr1}
\GL{RT}{GUF1}{1199}{1474}{1164}{1444}{cr1}
\GL{RT}{EIF3H}{1119}{1475}{1124}{1454}{cr3}
\GL{RT}{UNK}{1147}{1507}{1137}{1480}{cr1}
\GL{RT}{EIF1}{1043}{1475}{1077}{1422}{cw}
\G{RT}{LARP4}{1057}{1508}{1077}{1460}{cw}
\GL{RT}{ZNF598}{1025}{1540}{1036}{1482}{cr1}
\GL{RT}{PKM}{941}{1532}{928}{1502}{cr1}
\G{RT}{OGT}{974}{1467}{964}{1498}{cr3}
\G{RT}{MSI2}{968}{1430}{999}{1443}{cr1}
\GL{RT}{ACO1}{846}{1530}{858}{1500}{cr1}
\G{RT}{PAIP2B}{876}{1497}{866}{1478}{cr1}
\G{RT}{ENC1}{899}{1462}{856}{1443}{cr2}
\G{RT}{CAPRIN2}{811}{1453}{835}{1462}{cw}
\GL{RT}{DDX6}{783}{1487}{843}{1468}{cb2}
\GL{RT}{IGFBP5}{749}{1522}{840}{1474}{cr1}
\G{RT}{ELP6}{843}{1418}{869}{1428}{cw}
\G{RT}{PPP1CA}{931}{1402}{933}{1422}{cr1}
\GL{RT}{BZW1}{901}{1370}{961}{1385}{cr2}
\GL{RT}{PA2G4}{874}{1300}{944}{1325}{cr1}
\G{RT}{IFRD2}{976}{1333}{924}{1343}{cr1}
\G{RT}{SELENOT}{868}{1337}{905}{1318}{cr1}
\G{RT}{NOLC1}{966}{1300}{1016}{1298}{cr1}
\G{RT}{EIF2B2}{993}{1265}{954}{1282}{cr2}
\G{RT}{EIF5A}{911}{1265}{890}{1282}{cr1}
\GD{RT}{1054}{1187}{cb1}
\GD{RT}{1315}{1048}{cr1}
\GD{RT}{1309}{1187}{cw}
\GD{RT}{1289}{1218}{cb2}
\GD{RT}{1135}{1308}{cr1}
\GD{RT}{1207}{1353}{cr1}
\GD{RT}{1063}{1478}{cr1}
\GD{RT}{1023}{1322}{cr1}
\GD{RT}{1013}{1428}{cb1}
\GD{RT}{909}{1435}{cr2}
\GD{RT}{909}{1478}{cr2}
\GD{RT}{993}{1497}{cr1}
\GD{RT}{996}{1472}{cw}
}
\begin{document}
\begin{tikzpicture}[x=0.1mm,y=-0.1mm]
\begin{pgfonlayer}{bgl}
\fill[white] (0,0) rectangle (1568,1568);
\end{pgfonlayer}
\useasboundingbox (0,0) rectangle (1568,1568);
% hubs and gene dots
\begin{pgfonlayer}{dotl}
\node[hubn,minimum size=2.7mm] (CS) at (432,516) {};
\node[hubn,minimum size=2.1mm] (SC) at (455,550) {};
\node[hubn,minimum size=4.0mm] (DR) at (996,464) {};
\node[hubn,minimum size=2.6mm] (RC) at (531,1071) {};
\node[hubn,minimum size=3.2mm] (RT) at (957,1110) {};
\def\gmode{0}\setcounter{gn}{0}\genedata
\end{pgfonlayer}
% edges
\begin{pgfonlayer}{edgel}
\def\gmode{1}\setcounter{gn}{0}\genedata
\end{pgfonlayer}
% labels
\def\gmode{2}\setcounter{gn}{0}\genedata
% leaders
\begin{pgfonlayer}{leadl}
\def\gmode{3}\setcounter{gn}{0}\genedata
\end{pgfonlayer}
% ---------- category labels
\node[glab] (CSl) at (514,500) {nuclear chromosome segregation};
\node[glab] (SCl) at (551,570) {sister chromatid segregation};
\node[glab] (RCl) at (638,1080) {RNA catabolic process};
\node[glab] (RTl) at (872,1028) {regulation of translation};
\coordinate (rtq) at (905,1040);
\begin{pgfonlayer}{leadl}
\draw[ldr] (rtq) -- (RT.center);
\end{pgfonlayer}
% ---------- legend
\node[lgt] (lgsize) at (1445,559) {size};
\node[hubn,minimum size=2.67mm] (lg1) at (1468,599) {};
\node[hubn,minimum size=3.13mm] (lg2) at (1468,636) {};
\node[hubn,minimum size=3.4mm] (lg3) at (1468,676) {};
\node[hubn,minimum size=3.73mm] (lg4) at (1468,719) {};
\node[hubn,minimum size=3.93mm] (lg5) at (1468,766) {};
\node[lgn] (lgn1) at (1503,599) {120};
\node[lgn] (lgn2) at (1503,636) {140};
\node[lgn] (lgn3) at (1503,676) {160};
\node[lgn] (lgn4) at (1503,719) {180};
\node[lgn] (lgn5) at (1503,766) {200};
\node[lgt] (lgfc) at (1445,818) {fold change};
\shade[top color=cb4,bottom color=white] (1445,841) rectangle (1481,949.5);
\shade[top color=white,bottom color=barlow] (1445,949) rectangle (1481,1028);
\foreach \yy in {843,896,949,1004}{
  \draw[white,line width=0.5pt] (1445,\yy) -- (1452,\yy);
  \draw[white,line width=0.5pt] (1474,\yy) -- (1481,\yy);
}
\node[lgn] (lgt1) at (1498,843) {2};
\node[lgn] (lgt2) at (1498,896) {1};
\node[lgn] (lgt3) at (1498,949) {0};
\node[lgn] (lgt4) at (1494,1004) {-1};
\end{tikzpicture}
\end{document}
